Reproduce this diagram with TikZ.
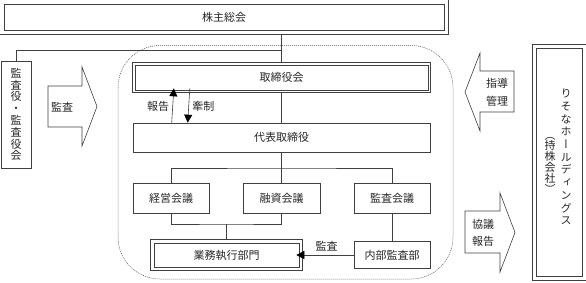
\documentclass[tikz,border=0pt]{standalone}
\usepackage{fontspec}
\setmainfont{Noto Sans CJK JP}
\newfontfamily\vjp[RawFeature=+vert]{Noto Sans CJK JP}
\usetikzlibrary{arrows.meta}

\begin{document}
\begin{tikzpicture}[x=1pt, y=-1pt, line width=0.6pt,
  font=\fontsize{11}{13}\selectfont,
  box/.style={draw=black!75, text=black!85, inner sep=0pt},
  frame/.style={draw=black!75},
  conn/.style={draw=black!75},
  tri/.style={conn, -{Triangle[length=8pt,width=8pt,fill=black,color=black]}},
  bigarrow/.style={draw=black!75, fill=white},
  vtext/.style={text=black!85, align=center, inner sep=0pt}]
  \useasboundingbox (0,0) rectangle (586,282);

  % top: shareholders' meeting
  \node[box, minimum width=440, minimum height=26] (share) at (224,17) {株主総会};
  \draw[frame] ([xshift=-4pt,yshift=4pt]share.north west) rectangle ([xshift=4pt,yshift=-4pt]share.south east);

  % dotted outline round the bank itself
  \draw[black!70, line width=0.5pt, dash pattern=on 1pt off 1pt, rounded corners=42pt]
    (118,45.5) rectangle (453,279);

  % board and representative director
  \node[box, minimum width=293, minimum height=25] (board) at (281.5,77.5) {取締役会};
  \draw[frame] ([xshift=-2pt,yshift=2pt]board.north west) rectangle ([xshift=2pt,yshift=-2pt]board.south east);
  \node[box, minimum width=297, minimum height=29] (ceo) at (281.5,137.5) {代表取締役};

  % the three committees
  \node[box, minimum width=76, minimum height=30] (mgmt) at (171,198) {経営会議};
  \node[box, minimum width=77, minimum height=30] (loan) at (281.5,198) {融資会議};
  \node[box, minimum width=76, minimum height=30] (auditmtg) at (392,198) {監査会議};

  % operations and internal audit
  \node[box, minimum width=145, minimum height=24] (ops) at (226.5,255) {業務執行部門};
  \draw[frame] ([xshift=-3pt,yshift=3pt]ops.north west) rectangle ([xshift=3pt,yshift=-3pt]ops.south east);
  \node[box, minimum width=76, minimum height=27] (internal) at (392,255) {内部監査部};

  % auditors, left
  \node[box, minimum width=30, minimum height=107, align=center,
        font=\vjp\fontsize{11}{11.8}\selectfont] (audit) at (16,114.5)
        {監\\査\\役\\・\\監\\査\\役\\会};

  % holding company, right
  \node[box, minimum width=46, minimum height=228] (hd) at (559,162) {};
  \draw[frame] ([xshift=-3.5pt,yshift=3.5pt]hd.north west) rectangle ([xshift=3.5pt,yshift=-3.5pt]hd.south east);
  \node[vtext, font=\vjp\fontsize{11}{12.7}\selectfont] (hdname) at (566,157)
        {り\\そ\\な\\ホ\\ー\\ル\\デ\\ィ\\ン\\グ\\ス};
  \node[vtext, font=\vjp\fontsize{11}{10.8}\selectfont] (hdtype) at (550,165)
        {（\\持\\株\\会\\社\\）};

  % block arrows
  \draw[bigarrow] (48,86) -- (82,86) -- (82,67) -- (97,106.5) -- (82,146)
    -- (82,127) -- (48,127) -- cycle;
  \node[text=black!85] (auditarr) at (62,107) {監査};
  \draw[bigarrow] (514,71) -- (480,71) -- (480,53) -- (465,92) -- (480,131)
    -- (480,112) -- (514,112) -- cycle;
  \node[vtext, font=\fontsize{11}{18}\selectfont] (guide) at (497,92) {指導\\管理};
  \draw[bigarrow] (465,211) -- (500,211) -- (500,193) -- (515,232.5) -- (500,272)
    -- (500,253) -- (465,253) -- cycle;
  \node[vtext, font=\fontsize{11}{17}\selectfont] (consult) at (483,233) {協議\\報告};

  % connectors
  \coordinate (tee) at (281.5,50);
  \coordinate (bus1) at (281.5,168);
  \coordinate (bus2) at (226.5,224);
  \draw[conn] ([yshift=-4pt]share.south -| board.north) -- ([yshift=2pt]board.north);
  \draw[conn] (audit.north) |- (tee);
  \draw[conn] ([yshift=-2pt]board.south) -- (ceo.north);
  \draw[conn] (ceo.south) -- (loan.north);
  \draw[conn] (mgmt.north) |- (bus1) -| (auditmtg.north);
  \draw[conn] (mgmt.south) |- (bus2) -| (loan.south);
  \draw[conn] (bus2) -- ([yshift=3pt]ops.north);
  \draw[conn] (auditmtg.south) -- (internal.north);
  \draw[tri, shorten >=-2pt] ([xshift=39pt]ceo.north west) -- ([xshift=39pt]board.south west)
    node[midway, left, text=black!85] (rep) {報告};
  \draw[tri, shorten <=-2pt] ([xshift=55pt]board.south west) -- ([xshift=55pt]ceo.north west)
    node[midway, right, text=black!85] (ctrl) {牽制};
  \draw[tri, shorten >=-3pt] (internal.west) -- (internal.west -| ops.east)
    node[midway, above, text=black!85] (auditlbl) {監査};
\end{tikzpicture}
\end{document}
